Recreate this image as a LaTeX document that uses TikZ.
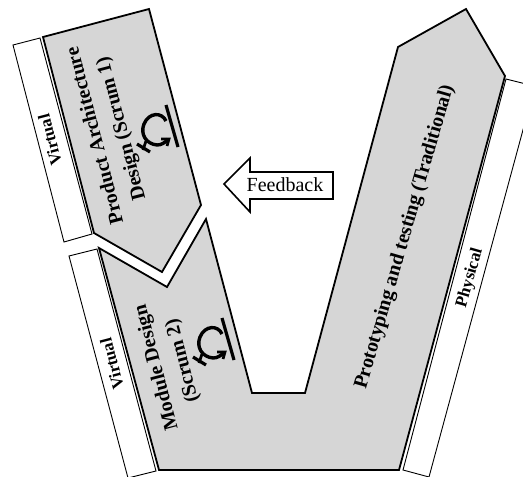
\documentclass[tikz,border=0pt]{standalone}
\usepackage{fontspec}
\setmainfont{Liberation Serif}
\usetikzlibrary{positioning}
\tikzset{
phase/.style={fill=black!16,draw=black,line width=1.8pt,line join=miter},
side/.style={fill=white,draw=black,line width=0.9pt},
sidelabel/.style={font=\fontsize{17}{18}\selectfont\bfseries,anchor=center},
phaselabel/.style={font=\fontsize{20}{27}\selectfont\bfseries,align=center,anchor=center},
loopicon/.pic={
\draw[line width=3.2pt] (9,-25) -- (21,17);
\draw[line width=3.4pt] (9,-9) .. controls (5,-18) and (-8,-18) .. (-13,-6) .. controls (-17,4) and (-11,14) .. (0,15) .. controls (4,15) and (8,13) .. (11,9);
\draw[line width=2.8pt] (4,9) -- (12,9) -- (10,16);
\draw[line width=3.2pt] (-20,14) -- (-7,22);
\draw[line width=2.8pt] (-11,11) -- (-14,20);
}
}
\begin{document}
\begin{tikzpicture}[x=1pt,y=-1pt]
\useasboundingbox (0,0) rectangle (523,477);
\clip (0,0) rectangle (523,477);
% side bars
\draw[side] (13,45) -- (40,38) -- (92,234) -- (64,242) -- cycle;
\draw[side] (69,256) -- (97,249) -- (156,471) -- (128,478) -- cycle;
\draw[side] (506,79) -- (530,85) -- (530,104) -- (429,477) -- (403,470) -- cycle;
% phases
\draw[phase] (43,37) -- (149,9) -- (201,205) -- (162,272) -- (94,233) -- cycle;
\draw[phase] (99,248) -- (167,287) -- (206,219) -- (252,393) -- (305,393) -- (398,47) -- (466,9) -- (505,76) -- (399,470) -- (159,470) -- cycle;
% feedback arrow
\draw[fill=white,draw=black,line width=1.6pt] (224,184) -- (250,158) -- (250,172) -- (333,172) -- (333,199) -- (250,199) -- (250,212) -- cycle;
\node[font=\fontsize{20}{22}\selectfont,anchor=center] (feedback) at (285,185) {Feedback};
% labels
\node[sidelabel,rotate=104.6] (virtualA) at (50,140) {Virtual};
\node[sidelabel,rotate=104.6] (virtualB) at (112,364) {Virtual};
\node[sidelabel,rotate=73.9] (physical) at (470,278) {Physical};
\node[phaselabel,rotate=104.6] (scrumA) at (109,132) {Product Architecture\\Design (Scrum 1)};
\node[phaselabel,rotate=104.6] (scrumB) at (170,364) {Module Design\\(Scrum 2)};
\node[phaselabel,rotate=73.9] (proto) at (405,237) {Prototyping and testing (Traditional)};
% loops
\pic at (157,130) {loopicon};
\pic at (213,343) {loopicon};
\end{tikzpicture}
\end{document}
